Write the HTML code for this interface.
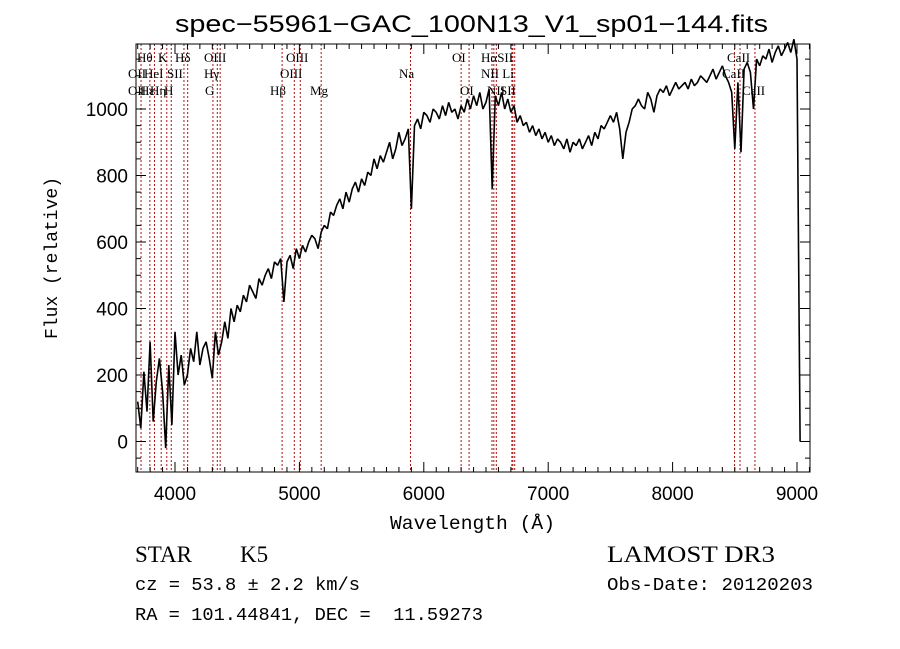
<!DOCTYPE html>
<html><head><meta charset="utf-8"><style>
html,body{margin:0;padding:0;background:#fff;}
svg{display:block;}
</style></head><body>
<svg id="chart" width="900" height="649" viewBox="0 0 900 649" xmlns="http://www.w3.org/2000/svg">
<rect x="0" y="0" width="900" height="649" fill="#fff"/>
<text x="175" y="32" textLength="593" lengthAdjust="spacingAndGlyphs" font-family="Liberation Sans, sans-serif" font-size="24">spec−55961−GAC_100N13_V1_sp01−144.fits</text>
<text x="390" y="529" textLength="165" lengthAdjust="spacingAndGlyphs" font-family="Liberation Mono, monospace" font-size="19">Wavelength (Å)</text>
<text transform="translate(57,258) rotate(-90)" text-anchor="middle" font-family="Liberation Mono, monospace" font-size="18">Flux (relative)</text>
<g id="lines"></g>
<g id="labels" font-family="Liberation Serif, serif" font-size="13"></g>
<path id="spec" fill="none" stroke="#000" stroke-width="1.6" stroke-linejoin="bevel"/>
<g id="axes" stroke="#000" fill="none"></g>
<g id="ticklabels" font-family="Liberation Sans, sans-serif" font-size="19"></g>
<text x="135" y="562" font-family="Liberation Serif, serif" font-size="23">STAR</text>
<text x="240" y="562" font-family="Liberation Serif, serif" font-size="23">K5</text>
<text x="607" y="562" textLength="168" lengthAdjust="spacingAndGlyphs" font-family="Liberation Serif, serif" font-size="23">LAMOST DR3</text>
<text x="135" y="590" textLength="225" lengthAdjust="spacingAndGlyphs" font-family="Liberation Mono, monospace" font-size="18">cz = 53.8 ± 2.2 km/s</text>
<text x="607" y="590" textLength="206" lengthAdjust="spacingAndGlyphs" font-family="Liberation Mono, monospace" font-size="18">Obs-Date: 20120203</text>
<text x="135" y="620" textLength="348" lengthAdjust="spacingAndGlyphs" font-family="Liberation Mono, monospace" font-size="18" xml:space="preserve">RA = 101.44841, DEC =  11.59273</text>
</svg>
<script>
const startWave = 3700;
const waveStep = 25;
const flux = [
120,40,210,90,300,60,180,250,
150,-20,230,50,330,200,260,170,
200,280,240,330,230,280,300,250,
190,330,260,300,360,310,400,360,
410,390,440,420,470,450,430,490,
470,500,520,490,540,530,550,420,
540,560,520,580,550,590,570,600,
620,610,580,630,650,640,690,680,
710,730,700,750,720,760,780,750,
790,770,810,800,850,820,860,840,
870,900,850,880,930,890,910,940,
700,950,970,940,990,980,960,1000,
990,970,1010,980,1020,990,1000,970,
1010,990,1030,1000,1040,1010,1050,1000,
1020,1060,760,1040,1010,1050,1000,1030,
990,1010,960,980,950,960,930,950,
920,940,910,930,900,920,890,910,
900,880,910,870,900,890,910,880,
900,920,890,930,910,950,940,960,
980,960,990,940,850,930,960,1000,
1010,1030,1010,1000,1050,1030,990,1040,
1060,1050,1070,1040,1060,1080,1060,1070,
1080,1060,1090,1070,1080,1100,1090,1080,
1100,1120,1090,1110,1130,1100,1080,1050,
880,1080,870,1120,1140,1110,1000,1150,
1130,1160,1150,1180,1140,1170,1190,1160,
1180,1200,1170,1210,1150,0
];
const lineWaves = [3727,3798,3835,3889,3934,3970,4072,4102,4305,4340,4363,4861,4959,5007,5175,5893,6300,6364,6548,6563,6583,6708,6716,6731,8498,8542,8662];
const yTicks = [0,200,400,600,800,1000];
const xTicks = [4000,5000,6000,7000,8000,9000];
const labelRows = [
 ["Hθ",137,62],["K",158,62],["Hδ",175,62],["OIII",204,62],["OIII",286,62],["OI",452,62],["HαSII",481,62],["CaII",727,62],
 ["OII",128,78],["HeI",144,78],["SII",167,78],["Hγ",204,78],["OIII",280,78],["Na",399,78],["NII Li",481,78],["CaII",722,78],
 ["OII",128,95],["Hε",140,95],["Hη",150,95],["H",164,95],["G",205,95],["Hβ",270,95],["Mg",310,95],["OI",460,95],["NII",487,95],["SII",500,95],["CaII",742,95]
];
const L=136,R=810,T=44,B=472;
function xs(w){return 175+(w-4000)*0.1244;}
function ys(v){return 441.5-v*0.3325;}
const NS="http://www.w3.org/2000/svg";
function mk(tag,attrs,parent){const e=document.createElementNS(NS,tag);for(const k in attrs)e.setAttribute(k,attrs[k]);parent.appendChild(e);return e;}
const lg=document.getElementById('lines');
for(const w of lineWaves){
 const l=mk('line',{x1:xs(w),x2:xs(w),y1:T,y2:B,stroke:'#b01010','stroke-width':1,'stroke-dasharray':'2,2'},lg);
 
 
}
const lb=document.getElementById('labels');
for(const r of labelRows){
 const t=mk('text',{x:r[1],y:r[2]},lb);t.textContent=r[0];
 
 
}
let d='';
flux.forEach((v,i)=>{const w=startWave+i*waveStep;d+=(i?'L':'M')+xs(w).toFixed(1)+','+ys(v).toFixed(1);});
document.getElementById('spec').setAttribute('d',d);
const ax=document.getElementById('axes');
const fr=mk('rect',{x:L,y:T,width:R-L,height:B-T,'stroke-width':1},ax);


let tp='';
for(let w=3700;w<=9100;w+=100){const x=xs(w);if(x<L||x>R)continue;const len=(w%1000===0)?10:5;tp+=`M${x},${B}v${-len}M${x},${T}v${len}`;}
for(let v=-50;v<=1200;v+=50){const y=ys(v);if(y<T||y>B)continue;const len=(v%200===0)?10:5;tp+=`M${L},${y}h${len}M${R},${y}h${-len}`;}
const tk=mk('path',{d:tp,'stroke-width':1},ax);


const tl=document.getElementById('ticklabels');
for(const w of xTicks){const t=mk('text',{x:xs(w),y:B+28,'text-anchor':'middle'},tl);t.textContent=w;
 
 }
for(const v of yTicks){const t=mk('text',{x:L-8,y:ys(v)+7,'text-anchor':'end'},tl);t.textContent=v;
 
 }
</script>
</body></html>
